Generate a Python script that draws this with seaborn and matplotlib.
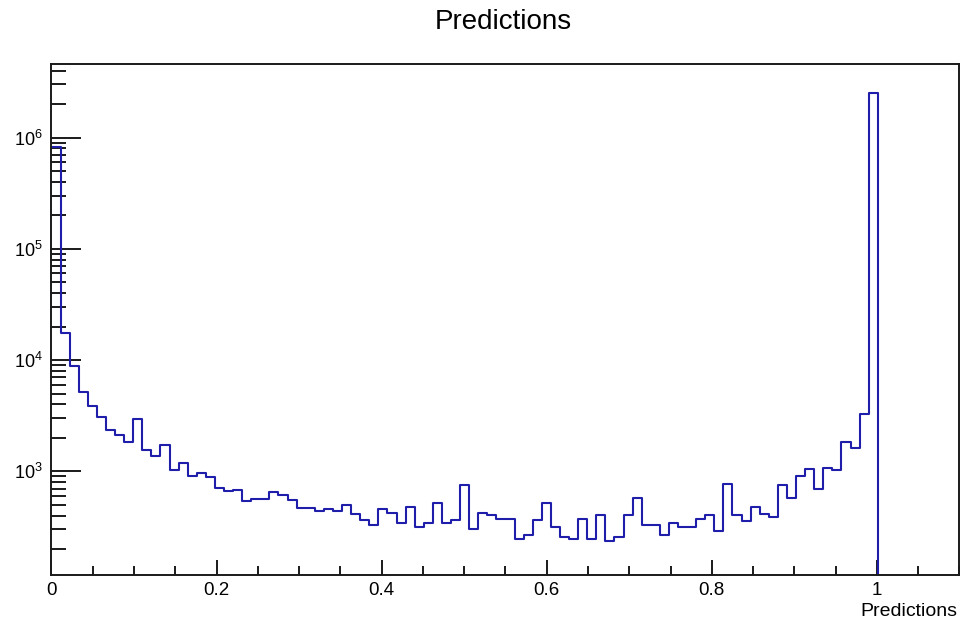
import numpy as np
import pandas as pd
import matplotlib
matplotlib.use('Agg')
import matplotlib.pyplot as plt
import matplotlib.ticker as mticker
import seaborn as sns

# DATA: 100 bins from 0 to 1.1, counts
n_bins = 100
x_min, x_max = 0.0, 1.1
counts = [820000, 17400, 8870, 5190, 3880, 3070, 2370, 2120, 1850, 2940,
          1565, 1385, 1720, 1035, 1188, 915, 966, 889, 714, 658,
          685, 542, 565, 565, 648, 614, 557, 472, 472, 440,
          459, 440, 499, 417, 364, 326, 459, 423, 340, 479,
          316, 344, 520, 340, 364, 754, 304, 423, 401, 373,
          373, 247, 268, 364, 520, 316, 258, 247, 373, 247,
          401, 237, 258, 406, 580, 330, 330, 268, 344, 316,
          316, 373, 406, 288, 776, 401, 354, 479, 417, 389,
          745, 580, 915, 1049, 693, 1079, 1035, 1850, 1633, 3290,
          2500000, 0, 0, 0, 0, 0, 0, 0, 0, 0]
x_ticks = [0, 0.2, 0.4, 0.6, 0.8, 1]
x_ticklabels = ['0', '0.2', '0.4', '0.6', '0.8', '1']

edges = np.linspace(x_min, x_max, n_bins + 1)
hist = pd.DataFrame({'Predictions': (edges[:-1] + edges[1:]) / 2,
                     'count': counts})

sns.set_style('ticks')
plt.rcParams['font.family'] = ['Liberation Sans', 'DejaVu Sans']
plt.rcParams['mathtext.fontset'] = 'custom'
plt.rcParams['mathtext.rm'] = 'Liberation Sans'
plt.rcParams['text.color'] = 'black'
plt.rcParams['xtick.labelcolor'] = 'black'
plt.rcParams['ytick.labelcolor'] = 'black'
plt.rcParams['axes.labelcolor'] = 'black'

fig = plt.figure(figsize=(9.62, 6.22), dpi=100)
ax = fig.add_axes([0.0535, 0.076, 0.9439, 0.8211])

sns.histplot(data=hist, x='Predictions', weights='count', bins=n_bins,
             binrange=(x_min, x_max), element='step', fill=False,
             color='#1e1eaa', linewidth=1.5, ax=ax)

ax.set_yscale('log')
ax.set_xlim(x_min, x_max)
ax.set_ylim(117.5, 4.58e6)

# ROOT-like axes
for s in ax.spines.values():
    s.set_color('#1a1a1a')
    s.set_linewidth(1.4)
ax.set_xticks(x_ticks)
ax.set_xticklabels(x_ticklabels)
ax.xaxis.set_minor_locator(mticker.MultipleLocator(0.05))
ax.yaxis.set_major_locator(mticker.LogLocator(base=10))
ax.yaxis.set_minor_locator(mticker.LogLocator(base=10, subs=np.arange(2, 10), numticks=50))
ax.yaxis.set_minor_formatter(mticker.NullFormatter())
ax.tick_params(axis='x', which='major', direction='in', length=11, width=1.4,
               color='#1a1a1a', labelsize=13.5, pad=5)
ax.tick_params(axis='x', which='minor', direction='in', length=6.3, width=1.4,
               color='#1a1a1a')
ax.tick_params(axis='y', which='major', direction='in', length=21.5, width=1.4,
               color='#1a1a1a', labelsize=13, pad=6)
ax.tick_params(axis='y', which='minor', direction='in', length=11, width=1.4,
               color='#1a1a1a')
ax.tick_params(top=False, right=False, which='both')

ax.set_ylabel('')
ax.set_xlabel('Predictions', fontsize=14, loc='right')
ax.xaxis.set_label_coords(0.9976, -0.055)
ax.xaxis.label.set_verticalalignment('top')

fig.text(0.5235, 1 - 22 / 622, 'Predictions', ha='center', va='center',
         fontsize=20)

fig.savefig('out.png', dpi=100)
